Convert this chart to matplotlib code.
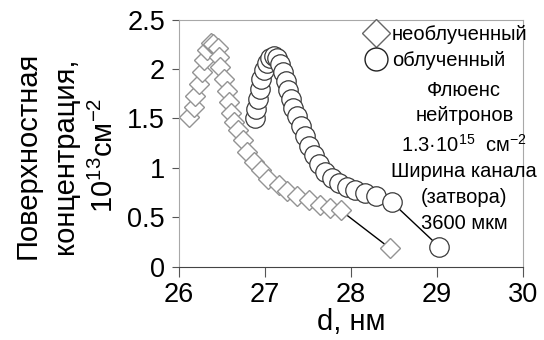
import numpy as np
import matplotlib
matplotlib.use("Agg")
import matplotlib.pyplot as plt
from matplotlib.lines import Line2D

plt.rcParams['font.family'] = ['Liberation Sans', 'DejaVu Sans']
plt.rcParams['mathtext.fontset'] = 'custom'
plt.rcParams['mathtext.rm'] = 'Liberation Sans'
plt.rcParams['mathtext.it'] = 'Liberation Sans'
plt.rcParams['mathtext.bf'] = 'Liberation Sans'

# unirradiated sample
d_plain = [26.12, 26.17, 26.19, 26.23, 26.27, 26.29, 26.33, 26.37, 26.40, 26.45,
           26.46, 26.48, 26.52, 26.56, 26.58, 26.60, 26.64, 26.69, 26.74, 26.79,
           26.87, 26.95, 27.04, 27.16, 27.26, 27.37, 27.51, 27.64, 27.76, 27.88, 28.45]
n_plain = [1.51, 1.62, 1.73, 1.85, 1.97, 2.09, 2.19, 2.26, 2.25, 2.21,
           2.12, 2.02, 1.90, 1.78, 1.67, 1.55, 1.46, 1.38, 1.28, 1.16,
           1.06, 0.98, 0.89, 0.83, 0.77, 0.72, 0.67, 0.62, 0.59, 0.57, 0.19]

# irradiated sample
d_irr = [26.88, 26.90, 26.92, 26.94, 26.96, 26.99, 27.02, 27.06, 27.10, 27.14,
         27.18, 27.21, 27.24, 27.27, 27.30, 27.33, 27.37, 27.42, 27.47, 27.51,
         27.57, 27.63, 27.70, 27.78, 27.86, 27.95, 28.05, 28.16, 28.29, 28.48, 29.03]
n_irr = [1.50, 1.60, 1.70, 1.80, 1.90, 1.99, 2.06, 2.11, 2.13, 2.11,
         2.05, 1.97, 1.88, 1.79, 1.70, 1.61, 1.52, 1.42, 1.32, 1.22,
         1.13, 1.04, 0.96, 0.90, 0.85, 0.81, 0.78, 0.75, 0.71, 0.65, 0.20]

xticks = [26, 27, 28, 29, 30]
yticks = [0, 0.5, 1, 1.5, 2, 2.5]
ytick_labels = ['0', '0.5', '1', '1.5', '2', '2.5']

fig = plt.figure(figsize=(5.44, 3.4), dpi=100)
ax = fig.add_axes([0.329, 0.2156, 0.632, 0.727])

# last segment of each curve is joined by a line
ax.plot(d_plain[-2:], n_plain[-2:], color='black', lw=1, zorder=1)
ax.plot(d_irr[-2:], n_irr[-2:], color='black', lw=1, zorder=1)

ax.plot(d_plain, n_plain, ls='none', marker='D', ms=10.5, mfc='white',
        mec='#939393', mew=1.0, zorder=2)
ax.plot(d_irr, n_irr, ls='none', marker='o', ms=14, mfc='white',
        mec='#3a3a3a', mew=0.9, zorder=3)

ax.set_xlim(26, 30)
ax.set_ylim(0, 2.5)
ax.set_xticks(xticks)
ax.set_yticks(yticks)
ax.set_yticklabels(ytick_labels)
ax.tick_params(axis='both', labelsize=19.5, colors='#555555', labelcolor='black')
ax.tick_params(axis='x', length=7, pad=4)
ax.tick_params(axis='y', length=5, pad=5)

for side in ['top', 'right', 'left']:
    ax.spines[side].set_color('#a8a8a8')
ax.spines['bottom'].set_color('#444444')

ax.set_xlabel('d, нм', fontsize=21, labelpad=0)
ax.set_ylabel('Поверхностная\nконцентрация,\n$10^{13}$см$^{-2}$', fontsize=21,
              linespacing=1.45)
ax.yaxis.set_label_coords(-0.175, 0.45)

handles = [
    Line2D([], [], ls='none', marker='D', ms=14, mfc='white', mec='#666666', mew=1.0),
    Line2D([], [], ls='none', marker='o', ms=16.5, mfc='white', mec='#222222', mew=1.0),
]
ax.legend(handles, ['необлученный', 'облученный'], loc='upper left',
          bbox_to_anchor=(0.52, 1.01), frameon=False, fontsize=14.5,
          handlelength=1.0, handletextpad=0.3, labelspacing=0.35, borderaxespad=0)

ax.text(0.83, 0.445, 'Флюенс\nнейтронов\n1.3·10$^{15}$  см$^{-2}$\nШирина канала\n(затвора)\n3600 мкм',
        transform=ax.transAxes, ha='center', va='center', fontsize=14.5,
        linespacing=1.45, zorder=4)

fig.savefig('out.png', dpi=100)
